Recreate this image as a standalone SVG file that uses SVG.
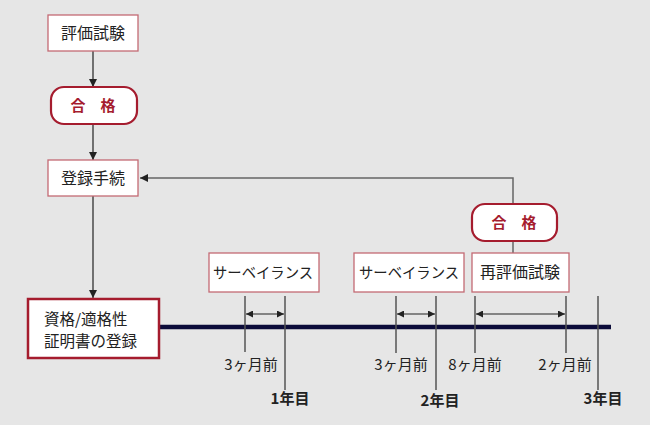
<svg xmlns="http://www.w3.org/2000/svg" width="650" height="425" viewBox="0 0 650 425">
<defs>
<marker id="ah" viewBox="0 0 10 10" refX="10" refY="5" markerWidth="8" markerHeight="8" markerUnits="userSpaceOnUse" orient="auto">
<path d="M0,0 L10,5 L0,10 Z" fill="#222"/>
</marker>
<marker id="sh" viewBox="0 0 10 10" refX="10" refY="5" markerWidth="7" markerHeight="7" markerUnits="userSpaceOnUse" orient="auto-start-reverse">
<path d="M0,0 L10,5 L0,10 Z" fill="#222"/>
</marker>
<style>
text{font-family:"Noto Sans CJK JP","Noto Sans",sans-serif;fill:#222}
.box{fill:#fff;stroke:#c46a74;stroke-width:1.3}
.main{fill:#fff;stroke:#a51c2e;stroke-width:2.5}
.pill{fill:#fff;stroke:#a51c2e;stroke-width:2.2}
.pt{font-size:15px;font-weight:bold;fill:#a51c2e}
.lb{font-size:16px}
.ml{font-size:15.5px}
.sv{font-size:15px}
.ln{stroke:#222;stroke-width:1.2;fill:none}
.fb{stroke:#666;stroke-width:1.5;fill:none}
.tk{stroke:#555;stroke-width:1.5}
.dim{stroke:#222;stroke-width:1;fill:none}
.sm{font-size:15px}
.yr{font-size:15px;font-weight:bold}
</style>
</defs>
<rect width="650" height="425" fill="#e6e6e6"/>
<g id="connectors">
<line class="ln" x1="93" y1="51" x2="93" y2="87" marker-end="url(#ah)"/>
<line class="ln" x1="93" y1="124" x2="93" y2="160" marker-end="url(#ah)"/>
<line class="ln" x1="93" y1="196" x2="93" y2="298" marker-end="url(#ah)"/>
<polyline class="fb" points="513,204 513,178 140,178" marker-end="url(#ah)"/>
<line class="fb" x1="513" y1="241" x2="513" y2="253"/>
</g>
<g id="timeline">
<line x1="159" y1="327" x2="611" y2="327" stroke="#0c0c3a" stroke-width="4.5"/>
<line class="tk" x1="245" y1="296" x2="245" y2="352"/>
<line class="tk" x1="285" y1="296" x2="285" y2="390"/>
<line class="tk" x1="396" y1="296" x2="396" y2="353"/>
<line class="tk" x1="436" y1="296" x2="436" y2="390"/>
<line class="tk" x1="475" y1="296" x2="475" y2="353"/>
<line class="tk" x1="566" y1="296" x2="566" y2="353"/>
<line class="tk" x1="598" y1="296" x2="598" y2="390"/>
<line class="dim" x1="246" y1="314" x2="284" y2="314" marker-start="url(#sh)" marker-end="url(#sh)"/>
<line class="dim" x1="397" y1="314" x2="435" y2="314" marker-start="url(#sh)" marker-end="url(#sh)"/>
<line class="dim" x1="476" y1="314" x2="565" y2="314" marker-start="url(#sh)" marker-end="url(#sh)"/>
<text class="sm" x="251" y="370" text-anchor="middle">3ヶ月前</text>
<text class="sm" x="401" y="370" text-anchor="middle">3ヶ月前</text>
<text class="sm" x="475" y="370" text-anchor="middle">8ヶ月前</text>
<text class="sm" x="565" y="370" text-anchor="middle">2ヶ月前</text>
<text class="yr" x="290" y="404" text-anchor="middle">1年目</text>
<text class="yr" x="440" y="406" text-anchor="middle">2年目</text>
<text class="yr" x="603" y="404" text-anchor="middle">3年目</text>
</g>
<g id="n1"><rect class="box" x="48" y="15" width="90" height="36"/><text class="lb" x="93" y="39" text-anchor="middle">評価試験</text></g>
<g id="n2"><rect class="pill" x="51" y="87" width="86" height="37" rx="13"/><text class="pt" x="93" y="111" text-anchor="middle">合　格</text></g>
<g id="n3"><rect class="box" x="48" y="160" width="90" height="36"/><text class="lb" x="93" y="184" text-anchor="middle">登録手続</text></g>
<g id="n4"><rect class="main" x="28" y="299" width="131" height="59"/><text class="ml" x="44" y="325">資格/適格性</text><text class="ml" x="44" y="347">証明書の登録</text></g>
<g id="n5"><rect class="box" x="209" y="253" width="110" height="39"/><text class="sv" x="263" y="278" text-anchor="middle" textLength="100" lengthAdjust="spacingAndGlyphs">サーベイランス</text></g>
<g id="n6"><rect class="box" x="354" y="253" width="110" height="39"/><text class="sv" x="409" y="278" text-anchor="middle" textLength="100" lengthAdjust="spacingAndGlyphs">サーベイランス</text></g>
<g id="n7"><rect class="box" x="472" y="253" width="97" height="39"/><text class="lb" x="520" y="278" text-anchor="middle">再評価試験</text></g>
<g id="n8"><rect class="pill" x="472" y="204" width="85" height="37" rx="13"/><text class="pt" x="514" y="228" text-anchor="middle">合　格</text></g>
</svg>
